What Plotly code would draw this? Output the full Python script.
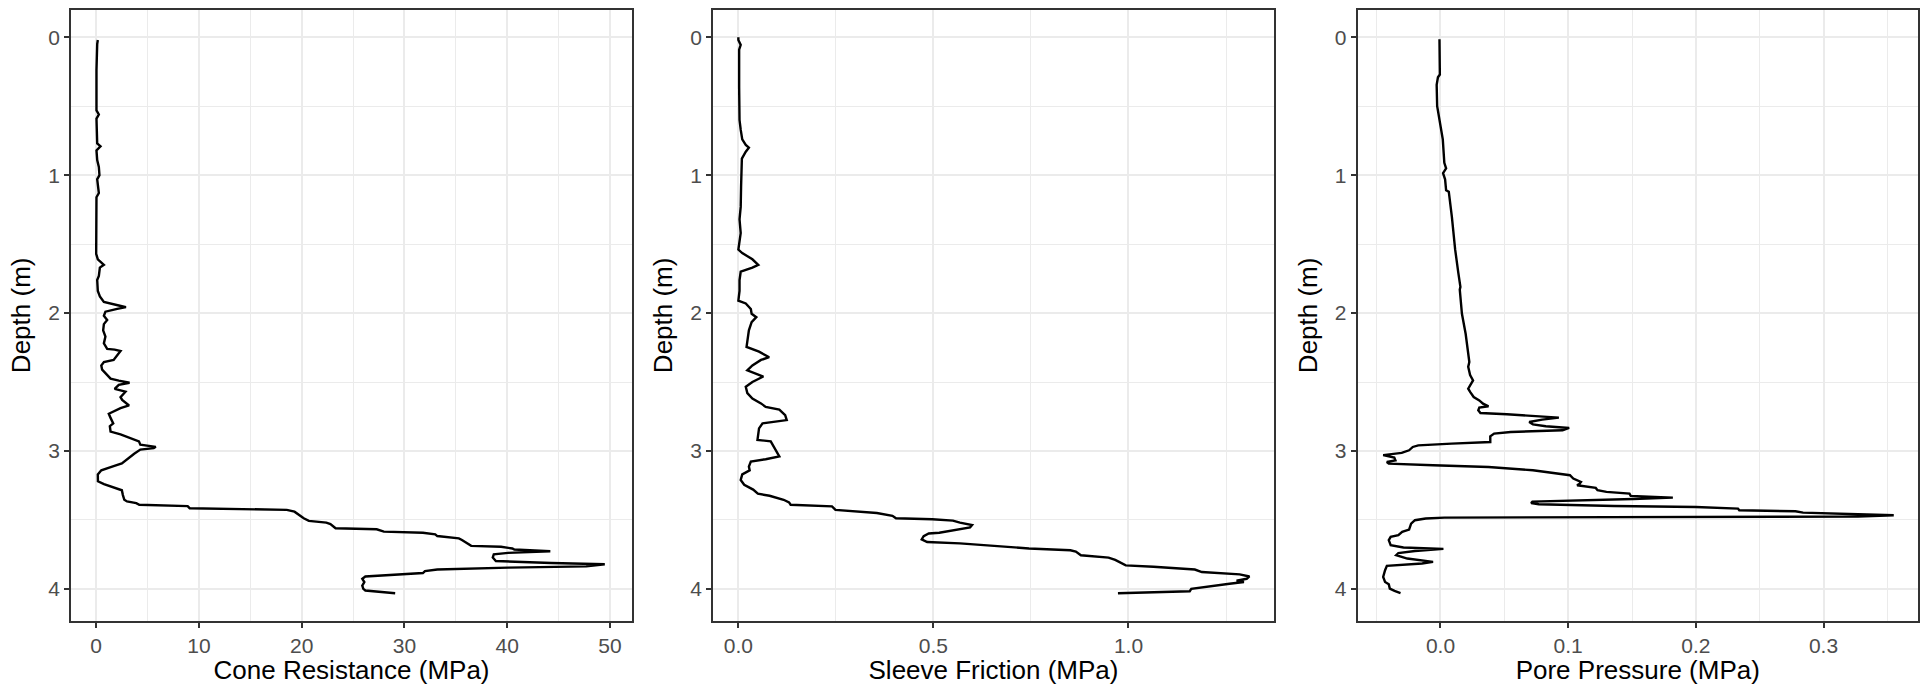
import plotly.graph_objects as go

# ---------------- data ----------------
depth_qc = [0.02, 0.05, 0.24, 0.53, 0.56, 0.59, 0.77, 0.79, 0.82, 0.89, 0.94, 1.0, 1.03, 1.08, 1.13, 1.16,
            1.32, 1.57, 1.61, 1.65, 1.67, 1.73, 1.76, 1.84, 1.88, 1.92, 1.945, 1.957, 1.97, 1.99, 2.02, 2.05,
            2.08, 2.125, 2.17, 2.22, 2.26, 2.265, 2.275, 2.31, 2.34, 2.355, 2.38, 2.41, 2.45, 2.475, 2.49,
            2.505, 2.52, 2.55, 2.57, 2.61, 2.63, 2.67, 2.69, 2.73, 2.76, 2.80, 2.82, 2.86, 2.88, 2.91, 2.93,
            2.955, 2.97, 2.98, 2.99, 3.02, 3.04, 3.065, 3.09, 3.11, 3.14, 3.17, 3.22, 3.24, 3.27, 3.285,
            3.32, 3.354, 3.366, 3.378, 3.39, 3.40, 3.415, 3.427, 3.44, 3.463, 3.488, 3.507, 3.52, 3.53,
            3.55, 3.56, 3.568, 3.585, 3.593, 3.605, 3.617, 3.634, 3.646, 3.67, 3.688, 3.695, 3.707, 3.715,
            3.727, 3.739, 3.749, 3.773, 3.798, 3.812, 3.822, 3.837, 3.846, 3.86, 3.871, 3.885, 3.898, 3.91,
            3.927, 3.951, 3.976, 4.0, 4.012, 4.02, 4.032]
cone_resistance = [0.16, 0.1, 0.03, 0.03, 0.26, 0.03, 0.1, 0.42, 0.03, 0.1, 0.26, 0.32, 0.1, 0.16, 0.26, 0.03,
                   0.0, 0.0, 0.16, 0.75, 0.36, 0.26, 0.1, 0.16, 0.36, 0.75, 2.2, 2.9, 2.05, 0.9, 0.75, 1.07,
                   0.75, 0.68, 0.9, 0.75, 1.07, 1.8, 2.37, 2.05, 1.7, 0.75, 0.5, 0.58, 1.07, 1.4, 2.2,
                   3.25, 2.2, 1.8, 2.85, 2.37, 2.53, 3.2, 2.37, 1.23, 1.4, 1.66, 1.33, 1.4, 2.37, 3.5, 4.16,
                   4.3, 5.8, 5.6, 4.3, 3.7, 3.35, 3.0, 2.5, 1.7, 0.5, 0.16, 0.17, 0.76, 1.8, 2.5,
                   2.6, 2.74, 3.0, 3.9, 4.2, 8.9, 9.1, 18.55, 19.3, 19.7, 20.2, 20.7, 22.4, 22.8,
                   23.2, 23.3, 27.3, 28.0, 31.8, 33.0, 33.2, 35.3, 35.6, 36.1, 36.5, 39.4, 40.5, 40.7,
                   44.2, 40.1, 38.7, 38.6, 38.9, 44.3, 49.5, 47.7, 40.1, 33.2, 32.0, 31.8, 28.7, 26.2,
                   25.9, 26.1, 25.9, 26.0, 26.2, 27.3, 29.1]

depth_fs = [0.0, 0.02, 0.055, 0.09, 0.36, 0.6, 0.67, 0.74, 0.78, 0.80, 0.83, 0.88, 1.08, 1.23, 1.32, 1.42,
            1.54, 1.565, 1.61, 1.65, 1.67, 1.69, 1.70, 1.76, 1.84, 1.91, 1.93, 1.97, 2.005, 2.03, 2.065,
            2.125, 2.21, 2.245, 2.28, 2.32, 2.34, 2.38, 2.415, 2.44, 2.46, 2.5, 2.535, 2.58, 2.62, 2.655,
            2.68, 2.70, 2.74, 2.776, 2.80, 2.836, 2.92, 2.93, 2.99, 3.04, 3.06, 3.077, 3.113, 3.14, 3.17,
            3.21, 3.245, 3.28, 3.31, 3.325, 3.354, 3.373, 3.39, 3.402, 3.427, 3.45, 3.47, 3.488, 3.495,
            3.505, 3.52, 3.537, 3.554, 3.568, 3.578, 3.593, 3.598, 3.617, 3.641, 3.66, 3.67, 3.683, 3.695,
            3.707, 3.72, 3.73, 3.756, 3.773, 3.79, 3.805, 3.83, 3.84, 3.86, 3.878, 3.895, 3.91, 3.927,
            3.94, 3.95, 3.963, 3.983, 4.0, 4.017, 4.027, 4.032]
sleeve_friction = [0.0, 0.0, 0.006, 0.002, 0.002, 0.003, 0.006, 0.01, 0.019, 0.027, 0.019, 0.009, 0.007, 0.006,
                   0.003, 0.006, 0.0, 0.01, 0.036, 0.051, 0.036, 0.015, 0.006, 0.003, 0.003, 0.0, 0.019,
                   0.032, 0.034, 0.046, 0.034, 0.027, 0.023, 0.021, 0.053, 0.079, 0.058, 0.036, 0.023,
                   0.045, 0.064, 0.036, 0.019, 0.023, 0.036, 0.058, 0.07, 0.105, 0.12, 0.124, 0.062,
                   0.053, 0.049, 0.083, 0.096, 0.105, 0.07, 0.032, 0.027, 0.029, 0.01, 0.006, 0.015,
                   0.038, 0.05, 0.08, 0.116, 0.13, 0.134, 0.24, 0.249, 0.355, 0.395, 0.404, 0.497, 0.55,
                   0.568, 0.599, 0.594, 0.568, 0.543, 0.515, 0.488, 0.475, 0.47, 0.484, 0.568, 0.639,
                   0.692, 0.745, 0.851, 0.865, 0.878, 0.949, 0.966, 0.975, 0.993, 1.064, 1.17, 1.188,
                   1.285, 1.31, 1.303, 1.277, 1.296, 1.259, 1.197, 1.161, 1.157, 1.064, 0.973]

depth_u2 = [0.015, 0.115, 0.27, 0.29, 0.345, 0.5, 0.55, 0.74, 0.91, 0.95, 0.985, 1.03, 1.11, 1.12, 1.3, 1.54,
            1.71, 1.81, 1.83, 2.005, 2.15, 2.355, 2.39, 2.45, 2.488, 2.524, 2.548, 2.572, 2.609, 2.633,
            2.657, 2.676, 2.686, 2.705, 2.725, 2.734, 2.749, 2.758, 2.773, 2.79, 2.807, 2.821, 2.833,
            2.85, 2.862, 2.874, 2.894, 2.935, 2.947, 2.959, 2.971, 2.995, 3.014, 3.03, 3.048, 3.068,
            3.08, 3.092, 3.104, 3.116, 3.14, 3.16, 3.176, 3.2, 3.225, 3.237, 3.249, 3.268, 3.285, 3.297,
            3.309, 3.326, 3.338, 3.348, 3.357, 3.367, 3.377, 3.386, 3.399, 3.406, 3.418, 3.43, 3.437,
            3.447, 3.459, 3.466, 3.476, 3.483, 3.49, 3.502, 3.527, 3.57, 3.587, 3.611, 3.623, 3.647,
            3.684, 3.7, 3.71, 3.725, 3.74, 3.756, 3.78, 3.804, 3.816, 3.833, 3.865, 3.913, 3.95, 3.966,
            3.998, 4.015, 4.03]
pore_pressure = [-0.0008, -0.0008, -0.0005, -0.002, -0.003, -0.0026, -0.0016, 0.0018, 0.003, 0.0044, 0.002,
                 0.0036, 0.0044, 0.0065, 0.0089, 0.0115, 0.014, 0.0156, 0.0151, 0.0168, 0.0197, 0.0226,
                 0.0217, 0.0232, 0.0255, 0.0232, 0.0217, 0.0232, 0.026, 0.0304, 0.0333, 0.0376, 0.0304,
                 0.0296, 0.0313, 0.052, 0.081, 0.0927, 0.0796, 0.0695, 0.0724, 0.0825, 0.1008, 0.0956,
                 0.055, 0.042, 0.039, 0.039, 0.0087, -0.0174, -0.0217, -0.0246, -0.0304, -0.0449,
                 -0.0362, -0.0353, -0.042, -0.0405, -0.0058, 0.0376, 0.0724, 0.0898, 0.1014, 0.104,
                 0.11, 0.109, 0.107, 0.1216, 0.123, 0.130, 0.148, 0.149, 0.182, 0.151, 0.101, 0.072,
                 0.071, 0.077, 0.136, 0.2, 0.233, 0.234, 0.278, 0.284, 0.327, 0.355, 0.327, 0.003,
                 -0.0116, -0.02, -0.023, -0.0246, -0.030, -0.033, -0.039, -0.0405, -0.039, -0.029,
                 0.0023, -0.02, -0.033, -0.0347, -0.026, -0.0058, -0.0145, -0.042, -0.0434, -0.0449,
                 -0.0434, -0.0405, -0.0397, -0.036, -0.0313]

x_titles = ["Cone Resistance (MPa)", "Sleeve Friction (MPa)", "Pore Pressure (MPa)"]
y_title = "Depth (m)"

# ---------------- figure ----------------
W, H = 1923, 685
FONT = "Liberation Sans, Arial, Helvetica, sans-serif"
GRID = "#EBEBEB"
BORDER = "#333333"
TICKTXT = "#4D4D4D"

panels = [
    (cone_resistance, depth_qc, (71, 632), [-2.45, 52.15], 10, 5, None),
    (sleeve_friction, depth_fs, (713, 1274), [-0.065, 1.373], 0.5, 0.25, ".1f"),
    (pore_pressure, depth_u2, (1357.5, 1918), [-0.065, 0.374], 0.1, 0.05, ".1f"),
]

y_dom = [1 - 621 / H, 1 - 9.7 / H]

fig = go.Figure()
layout = dict(
    width=W, height=H,
    margin=dict(l=0, r=0, t=0, b=0),
    paper_bgcolor="white", plot_bgcolor="white",
    showlegend=False,
    font=dict(family=FONT, size=21, color=TICKTXT),
)

for i, (xv, yv, (px0, px1), xr, dt, mdt, fmt) in enumerate(panels):
    n = "" if i == 0 else str(i + 1)
    fig.add_trace(go.Scatter(
        x=xv, y=yv, mode="lines",
        line=dict(color="black", width=2.4),
        xaxis="x" + n, yaxis="y" + n, hoverinfo="skip",
    ))
    xa = dict(
        domain=[px0 / W, px1 / W], range=xr, anchor="y" + n,
        tick0=0, dtick=dt, tickformat=fmt if fmt else "d",
        showgrid=True, gridcolor=GRID, gridwidth=2,
        minor=dict(tick0=0, dtick=mdt, showgrid=True, gridcolor=GRID, gridwidth=1, ticks=""),
        showline=True, mirror=True, linecolor=BORDER, linewidth=1.5,
        ticks="outside", ticklen=5, tickwidth=1.5, tickcolor=BORDER,
        tickfont=dict(size=21, color=TICKTXT, family=FONT),
        zeroline=False, automargin=False,
        title=dict(text=x_titles[i], font=dict(size=26, color="black", family=FONT), standoff=6),
    )
    ya = dict(
        domain=y_dom, range=[4.233, -0.2], anchor="x" + n,
        tick0=0, dtick=1,
        showgrid=True, gridcolor=GRID, gridwidth=2,
        minor=dict(tick0=0, dtick=0.5, showgrid=True, gridcolor=GRID, gridwidth=1, ticks=""),
        showline=True, mirror=True, linecolor=BORDER, linewidth=1.5,
        ticks="outside", ticklen=5, tickwidth=1.5, tickcolor=BORDER,
        tickfont=dict(size=21, color=TICKTXT, family=FONT),
        zeroline=False, automargin=False,
        title=dict(text=y_title, font=dict(size=26, color="black", family=FONT), standoff=10),
    )
    layout["xaxis" + n] = xa
    layout["yaxis" + n] = ya

fig.update_layout(**layout)
fig.write_html(
    "out.html",
    config={"displayModeBar": False},
    post_script="document.body.style.margin='0';document.body.style.overflow='hidden';",
)
